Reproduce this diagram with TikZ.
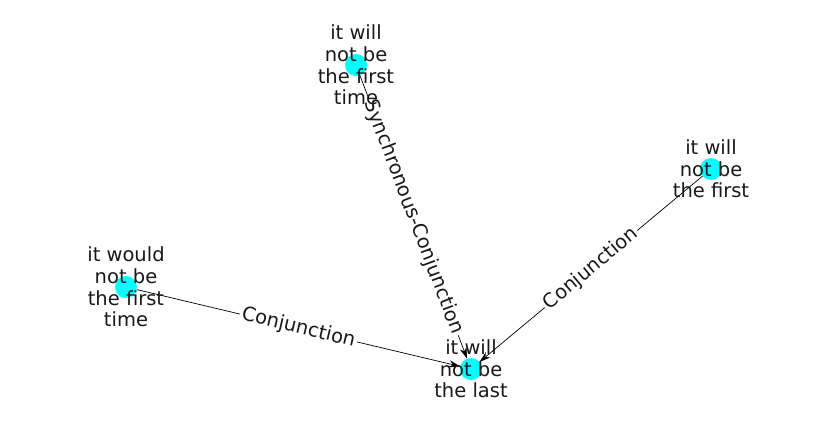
\documentclass[tikz,border=0pt]{standalone}
\usepackage{fontspec}
\setmainfont{DejaVu Sans}
\usetikzlibrary{arrows.meta}
\definecolor{aqua}{RGB}{0,255,255}
\begin{document}
\begin{tikzpicture}[x=1pt,y=-1pt,
  dot/.style={circle,fill=aqua,minimum size=22pt,inner sep=0pt},
  lbl/.style={align=center,text=black!90,font=\fontsize{19.5}{21.7}\selectfont,inner sep=0pt},
  edge/.style={draw=black,line width=0.7pt,-{Stealth[length=11pt,width=7pt]}},
  elbl/.style={sloped,fill=white,inner sep=2pt,text=black!90,font=\fontsize{19.5}{21}\selectfont}]
\useasboundingbox (0,0) rectangle (837,434);
\node[dot] (a) at (356,65) {};
\node[dot] (b) at (711,169) {};
\node[dot] (c) at (126,287) {};
\node[dot] (d) at (471,369) {};
\draw[edge] (a) -- node[elbl] {Synchronous-Conjunction} (d);
\draw[edge] (c) -- node[elbl] {Conjunction} (d);
\draw[edge] (b) -- node[elbl] {Conjunction} (d);
\node[lbl] (ta) at (356,65) {it will\\not be\\the first\\time};
\node[lbl] (tb) at (711,169) {it will\\not be\\the first};
\node[lbl] (tc) at (126,287) {it would\\not be\\the first\\time};
\node[lbl] (td) at (471,369) {it will\\not be\\the last};
\end{tikzpicture}
\end{document}
